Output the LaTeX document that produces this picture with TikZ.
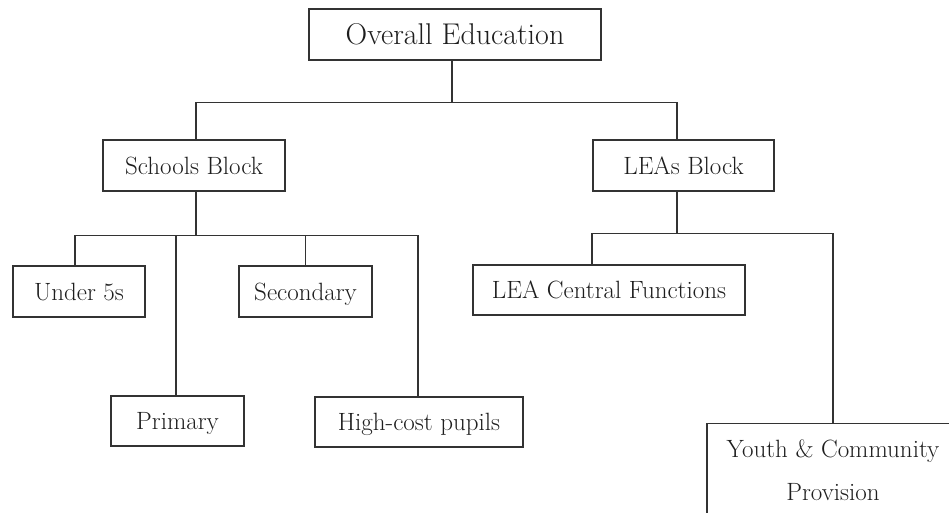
\documentclass[tikz,border=0pt]{standalone}
\usepackage{fontspec}
\definecolor{ink}{HTML}{333333}
\definecolor{txt}{HTML}{1E1E1E}
\tikzset{
  frame/.style={draw=ink, line width=1.1pt, rectangle, inner sep=0pt, text=txt,
    font=\fontsize{25}{30}\selectfont},
  box/.style={frame, text height=17.4pt, text depth=0pt},
  conn/.style={draw=ink, line width=1.1pt},
}
\begin{document}
\begin{tikzpicture}[x=1pt,y=-1pt]
\useasboundingbox (0,0) rectangle (949,513);
\clip (0,0) rectangle (949,513);
% nodes
\node[box, minimum width=292pt, minimum height=51pt, font=\fontsize{30}{36}\selectfont, text height=20.8pt] (top) at (455,34.5) {Overall Education};
\node[box, minimum width=182pt, minimum height=51pt] (schools) at (194,165.5) {Schools Block};
\node[box, minimum width=181pt, minimum height=51pt] (leas) at (683.5,165.5) {LEAs Block};
\node[box, minimum width=132pt, minimum height=51pt] (under) at (79,291.5) {Under 5s};
\node[box, minimum width=133pt, minimum height=51pt] (secondary) at (305.5,291.5) {Secondary};
\node[box, minimum width=133pt, minimum height=50pt] (primary) at (177.5,421) {Primary};
\node[box, minimum width=208pt, minimum height=50pt] (highcost) at (419,422) {High-cost pupils};
\node[box, minimum width=272pt, minimum height=50pt] (central) at (609,290) {LEA Central Functions};
\node[frame, anchor=north, minimum width=252pt, align=center, inner ysep=16pt, text depth=50pt,
      font=\fontsize{25}{43}\selectfont] (youth) at (833,423) {Youth \& Community\\Provision};
% connectors
\coordinate (tS) at ([xshift=-3pt]top.south);
\coordinate (sN) at ([xshift=2pt]schools.north);
\coordinate (lN) at ([xshift=-6.5pt]leas.north);
\draw[conn] (tS) -- ++(0,42) coordinate (b1);
\draw[conn] (sN) |- (b1) -| (lN);
\coordinate (sS) at ([xshift=2pt]schools.south);
\draw[conn] (sS) -- ++(0,44) coordinate (b2);
\coordinate (uN) at ([xshift=-4pt]under.north);
\coordinate (pN) at ([xshift=-1.5pt]primary.north);
\coordinate (secN) at (secondary.north);
\coordinate (hN) at ([xshift=-1pt]highcost.north);
\draw[conn] (uN) |- (hN |- b2) -- (hN);
\draw[conn] (pN) -- (pN |- b2);
\draw[conn] (secN) -- (secN |- b2);
\coordinate (lS) at ([xshift=-6.5pt]leas.south);
\draw[conn] (lS) -- ++(0,42) coordinate (b3);
\coordinate (cN) at ([xshift=-17pt]central.north);
\draw[conn] (cN) |- (youth.north |- b3) -- (youth.north);
\end{tikzpicture}
\end{document}
